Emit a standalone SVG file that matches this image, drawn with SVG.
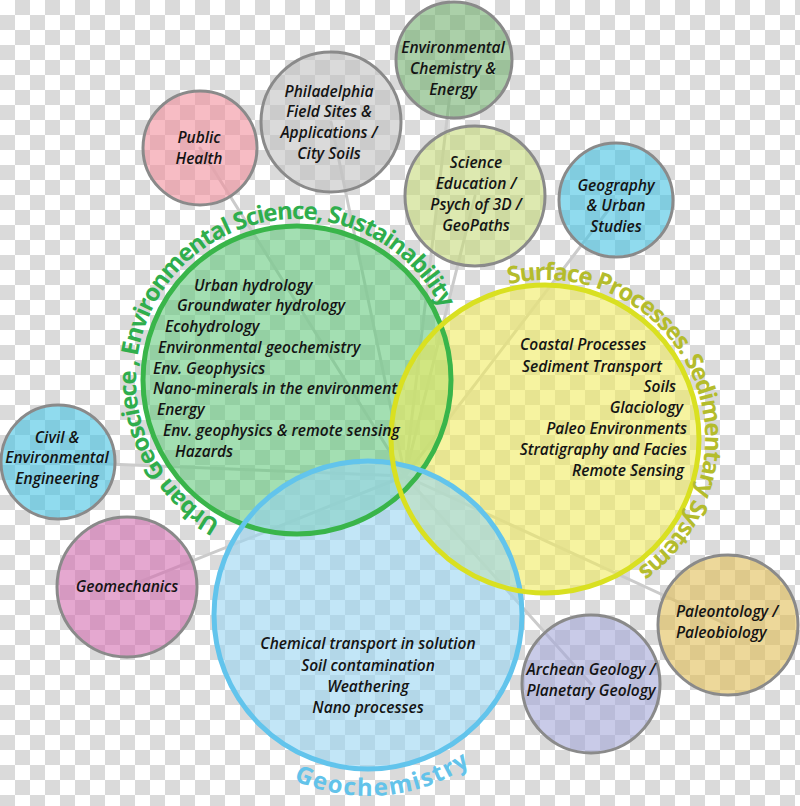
<svg xmlns="http://www.w3.org/2000/svg" xmlns:xlink="http://www.w3.org/1999/xlink" width="800" height="806" viewBox="0 0 800 806">
<defs>
<pattern id="chk" width="30" height="30" patternUnits="userSpaceOnUse">
<rect width="30" height="30" fill="#ffffff"/>
<rect x="15" y="0" width="15" height="15" fill="#dadada"/>
<rect x="0" y="15" width="15" height="15" fill="#dadada"/>
</pattern>
<path id="arcGreen" d="M252.6,534.8 A161,161 0 1 1 453.2,341.1"/>
<path id="arcYellow" d="M456.5,307.6 A159,159 0 1 1 585.1,593.1"/>
<path id="arcBlue" d="M264.2,763.3 A181,181 0 0 0 496,743"/>
</defs>
<style>
.conn{stroke:#cbcbcb;stroke-width:3;fill:none;stroke-linecap:round}
.small{stroke:#8a8a8a;stroke-width:3;fill-opacity:0.6}
.big{fill-opacity:0.6;stroke:none}
.ring{fill:none;stroke-width:5}
.t{font-family:"Open Sans","Liberation Sans",sans-serif;font-style:italic;font-weight:600;font-size:15.5px;fill:#141414}
.tc{text-anchor:middle}
.te{text-anchor:end}
.arc{font-family:"Open Sans","Liberation Sans",sans-serif;font-weight:700;font-size:24px}
</style>
<rect width="800" height="806" fill="url(#chk)"/>

<g id="connectors">
<line class="conn" x1="200" y1="148" x2="405" y2="476"/>
<line class="conn" x1="331" y1="122" x2="405" y2="476"/>
<line class="conn" x1="454" y1="60" x2="405" y2="476"/>
<line class="conn" x1="475" y1="196" x2="405" y2="476"/>
<line class="conn" x1="616" y1="200" x2="405" y2="476"/>
<line class="conn" x1="58" y1="462" x2="405" y2="476"/>
<line class="conn" x1="127" y1="587" x2="405" y2="476"/>
<line class="conn" x1="591" y1="684" x2="405" y2="476"/>
<line class="conn" x1="728" y1="625" x2="405" y2="476"/>
</g>

<g id="urban-geoscience">
<circle class="big" cx="297" cy="380" r="154" fill="#66ca7f"/>
</g>
<g id="surface-processes">
<circle class="big" cx="545" cy="439" r="154" fill="#f0eb61"/>
</g>
<g id="geochemistry">
<circle class="big" cx="368" cy="615" r="154" fill="#99d5f2"/>
</g>
<g id="rings">
<circle class="ring" cx="297" cy="380" r="154" stroke="#39b54a"/>
<circle class="ring" cx="368" cy="615" r="154" stroke="#62c4ec"/>
<circle class="ring" cx="545" cy="439" r="154" stroke="#d9e021"/>
</g>

<g id="urban-geoscience-labels">
<text class="arc" fill="#2fae4d"><textPath xlink:href="#arcGreen" href="#arcGreen" startOffset="50%" text-anchor="middle" textLength="605" lengthAdjust="spacing">Urban Geosciece , Environmental Science, Sustainability</textPath></text>
<text class="t" x="194" y="291">Urban hydrology</text>
<text class="t" x="177" y="311">Groundwater hydrology</text>
<text class="t" x="165" y="332">Ecohydrology</text>
<text class="t" x="158" y="353">Environmental geochemistry</text>
<text class="t" x="153" y="374">Env. Geophysics</text>
<text class="t" x="153" y="394">Nano-minerals in the environment</text>
<text class="t" x="157" y="415">Energy</text>
<text class="t" x="163" y="436">Env. geophysics &amp; remote sensing</text>
<text class="t" x="175" y="457">Hazards</text>
</g>

<g id="surface-processes-labels">
<text class="arc" fill="#b4bc2c"><textPath xlink:href="#arcYellow" href="#arcYellow" startOffset="50%" text-anchor="middle" textLength="440" lengthAdjust="spacing">Surface Processes. Sedimentary Systems</textPath></text>
<text class="t" x="520" y="350">Coastal Processes</text>
<text class="t" x="522" y="372">Sediment Transport</text>
<text class="t te" x="676" y="392">Soils</text>
<text class="t te" x="683" y="413">Glaciology</text>
<text class="t te" x="687" y="434">Paleo Environments</text>
<text class="t te" x="687" y="455">Stratigraphy and Facies</text>
<text class="t te" x="684" y="476">Remote Sensing</text>
</g>

<g id="geochemistry-labels">
<text class="arc" fill="#63c3ea" font-size="26"><textPath xlink:href="#arcBlue" href="#arcBlue" startOffset="50%" text-anchor="middle" textLength="185" lengthAdjust="spacing">Geochemistry</textPath></text>
<text class="t tc" x="368" y="649">Chemical transport in solution</text>
<text class="t tc" x="368" y="671">Soil contamination</text>
<text class="t tc" x="368" y="692">Weathering</text>
<text class="t tc" x="368" y="713">Nano processes</text>
</g>

<g id="public-health">
<circle class="small" cx="200" cy="148" r="57" fill="#f28f9d"/>
<text class="t tc" x="199" y="143">Public</text>
<text class="t tc" x="199" y="164">Health</text>
</g>
<g id="philadelphia">
<circle class="small" cx="331" cy="122" r="70" fill="#c1c1c1"/>
<text class="t tc" x="329" y="97">Philadelphia</text>
<text class="t tc" x="329" y="117">Field Sites &amp;</text>
<text class="t tc" x="329" y="138">Applications /</text>
<text class="t tc" x="329" y="159">City Soils</text>
</g>
<g id="env-chemistry">
<circle class="small" cx="454" cy="60" r="58" fill="#73b070"/>
<text class="t tc" x="453" y="53">Environmental</text>
<text class="t tc" x="453" y="74">Chemistry &amp;</text>
<text class="t tc" x="453" y="95">Energy</text>
</g>
<g id="science-education">
<circle class="small" cx="475" cy="196" r="70" fill="#c6da7b"/>
<text class="t tc" x="476" y="168">Science</text>
<text class="t tc" x="476" y="189">Education /</text>
<text class="t tc" x="476" y="210">Psych of 3D /</text>
<text class="t tc" x="476" y="231">GeoPaths</text>
</g>
<g id="geography">
<circle class="small" cx="616" cy="200" r="57" fill="#46c3e3"/>
<text class="t tc" x="616" y="191">Geography</text>
<text class="t tc" x="616" y="211">&amp; Urban</text>
<text class="t tc" x="616" y="232">Studies</text>
</g>
<g id="civil-engineering">
<circle class="small" cx="58" cy="462" r="57" fill="#46c3e3"/>
<text class="t tc" x="57" y="443">Civil &amp;</text>
<text class="t tc" x="57" y="463">Environmental</text>
<text class="t tc" x="57" y="484">Engineering</text>
</g>
<g id="geomechanics">
<circle class="small" cx="127" cy="587" r="70" fill="#d46eb1"/>
<text class="t tc" x="127" y="592">Geomechanics</text>
</g>
<g id="archean-geology">
<circle class="small" cx="591" cy="684" r="69" fill="#a5a8d9"/>
<text class="t tc" x="591" y="675">Archean Geology /</text>
<text class="t tc" x="591" y="696">Planetary Geology</text>
</g>
<g id="paleontology">
<circle class="small" cx="728" cy="625" r="70" fill="#e1be57"/>
<text class="t" x="676" y="617">Paleontology /</text>
<text class="t" x="676" y="638">Paleobiology</text>
</g>
</svg>
